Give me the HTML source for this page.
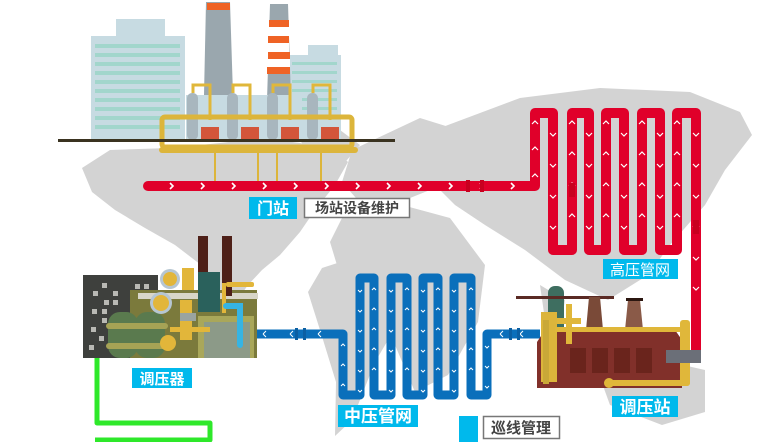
<!DOCTYPE html>
<html><head><meta charset="utf-8"><style>
html,body{margin:0;padding:0;background:#fff;}
svg{display:block;}
text{font-family:"Liberation Sans","Noto Sans CJK SC",sans-serif;}
</style></head><body>
<svg width="762" height="442" viewBox="0 0 762 442" xmlns="http://www.w3.org/2000/svg">
<!-- map -->
<g fill="#d3d3d3">
<polygon points="82,168 110,150 170,148 220,143 262,138 300,143 335,150 348,162 335,185 315,210 300,232 280,255 262,270 248,285 236,302 222,292 205,268 175,245 145,228 115,210 92,192"/>
<polygon points="300,140 340,130 360,145 340,168 312,160"/>
<polygon points="322,268 362,255 405,282 400,320 375,362 352,420 335,436 336,382 320,330 308,292"/>
<polygon points="352,150 420,118 465,132 450,182 405,200 362,205 342,182"/>
<polygon points="342,218 402,205 450,218 485,265 478,322 448,375 415,392 392,338 370,302 340,275 330,242"/>
<polygon points="440,128 520,98 600,88 690,92 740,112 752,135 725,170 705,205 670,245 648,275 608,300 565,280 525,250 485,225 455,205 422,172"/>
<polygon points="598,372 652,358 705,370 705,412 662,425 610,405"/>
<polygon points="540,285 565,300 560,330 545,320"/>
</g>
<!-- top buildings -->
<rect x="116" y="19" width="49" height="20" fill="#c7dbe2"/>
<rect x="91" y="36" width="94" height="103" fill="#c7dbe2"/>
<g fill="#a2d6cc"><rect x="95" y="44" width="85" height="4"/><rect x="95" y="53" width="85" height="4"/><rect x="95" y="62" width="85" height="4"/><rect x="95" y="71" width="85" height="4"/><rect x="95" y="80" width="85" height="4"/><rect x="95" y="89" width="85" height="4"/><rect x="95" y="98" width="85" height="4"/><rect x="95" y="107" width="85" height="4"/><rect x="95" y="116" width="85" height="4"/><rect x="95" y="125" width="85" height="4"/></g>
<rect x="308" y="45" width="30" height="12" fill="#c7dbe2"/>
<rect x="288" y="55" width="53" height="84" fill="#c7dbe2"/>
<g fill="#a2d6cc"><rect x="292" y="62" width="45" height="3"/><rect x="292" y="71" width="45" height="3"/><rect x="292" y="80" width="45" height="3"/><rect x="292" y="89" width="45" height="3"/><rect x="292" y="98" width="45" height="3"/><rect x="292" y="107" width="45" height="3"/><rect x="292" y="116" width="45" height="3"/></g>
<polygon points="206,2 230,2 233,95 204,95" fill="#9aa7ae"/>
<rect x="207" y="3" width="23" height="7" fill="#ef6325"/>
<polygon points="270,4 288,4 291,100 267,100" fill="#9aa7ae"/>
<g fill="#ef6325"><rect x="269" y="20" width="20" height="7"/><rect x="268" y="36" width="21" height="7"/><rect x="268" y="52" width="22" height="7"/><rect x="267" y="67" width="23" height="7"/></g>
<g fill="#fff"><rect x="269" y="27" width="20" height="9"/><rect x="268" y="43" width="21" height="9"/><rect x="268" y="59" width="22" height="8"/></g>
<rect x="186" y="95" width="116" height="45" fill="#c7dbe2"/>
<g fill="#a8b6be"><rect x="187" y="93" width="11" height="47" rx="5"/><rect x="227" y="93" width="11" height="47" rx="5"/><rect x="267" y="93" width="11" height="47" rx="5"/><rect x="307" y="93" width="11" height="47" rx="5"/></g>
<g fill="none" stroke="#e0b73a" stroke-width="3"><path d="M193,93 V85 H210 V120"/><path d="M233,93 V85 H250 V120"/><path d="M273,93 V85 H290 V120"/><path d="M313,93 V85 H330 V120"/></g>
<rect x="162" y="117" width="190" height="30" fill="none" stroke="#dcb53b" stroke-width="5" rx="3"/>
<g fill="#d3553a"><rect x="201" y="127" width="18" height="12"/><rect x="241" y="127" width="18" height="12"/><rect x="281" y="127" width="18" height="12"/><rect x="321" y="127" width="18" height="12"/></g>
<rect x="58" y="139" width="337" height="3" fill="#3a3320"/>
<rect x="159" y="147" width="199" height="6" rx="3" fill="#dcb53b"/>
<g stroke="#dcb53b" stroke-width="2"><line x1="215" y1="153" x2="215" y2="183"/><line x1="258" y1="153" x2="258" y2="183"/><line x1="277" y1="153" x2="277" y2="183"/><line x1="321" y1="153" x2="321" y2="183"/></g>
<!-- red pipe -->
<path d="M148,186 H535 V113 H553 V250 H572 V113 H589 V250 H606 V113 H624 V250 H642 V113 H660 V250 H677 V113 H696 V352" fill="none" stroke="#e0002a" stroke-width="10" stroke-linejoin="round" stroke-linecap="round"/>
<g fill="none" stroke="#fff" stroke-width="1.6">
<path d="M170,183 l3,3 l-3,3 M201,183 l3,3 l-3,3 M232,183 l3,3 l-3,3 M263,183 l3,3 l-3,3 M294,183 l3,3 l-3,3 M325,183 l3,3 l-3,3 M356,183 l3,3 l-3,3 M387,183 l3,3 l-3,3 M418,183 l3,3 l-3,3 M449,183 l3,3 l-3,3 M480,183 l3,3 l-3,3 M511,183 l3,3 l-3,3"/>
</g>
<g fill="none" stroke="#fff" stroke-width="1.2">
<path d="M532,124 l3,-3 l3,3 M532,150 l3,-3 l3,3 M532,177 l3,-3 l3,3"/>
<path d="M550,133 l3,3 l3,-3 M550,164 l3,3 l3,-3 M550,195 l3,3 l3,-3 M550,226 l3,3 l3,-3"/>
<path d="M569,124 l3,-3 l3,3 M569,155 l3,-3 l3,3 M569,186 l3,-3 l3,3 M569,217 l3,-3 l3,3"/>
<path d="M586,133 l3,3 l3,-3 M586,164 l3,3 l3,-3 M586,195 l3,3 l3,-3 M586,226 l3,3 l3,-3"/>
<path d="M603,124 l3,-3 l3,3 M603,155 l3,-3 l3,3 M603,186 l3,-3 l3,3 M603,217 l3,-3 l3,3"/>
<path d="M621,133 l3,3 l3,-3 M621,164 l3,3 l3,-3 M621,195 l3,3 l3,-3 M621,226 l3,3 l3,-3"/>
<path d="M639,124 l3,-3 l3,3 M639,155 l3,-3 l3,3 M639,186 l3,-3 l3,3 M639,217 l3,-3 l3,3"/>
<path d="M657,133 l3,3 l3,-3 M657,164 l3,3 l3,-3 M657,195 l3,3 l3,-3 M657,226 l3,3 l3,-3"/>
<path d="M674,124 l3,-3 l3,3 M674,155 l3,-3 l3,3 M674,186 l3,-3 l3,3 M674,217 l3,-3 l3,3"/>
<path d="M693,133 l3,3 l3,-3 M693,164 l3,3 l3,-3 M693,195 l3,3 l3,-3 M693,226 l3,3 l3,-3 M693,257 l3,3 l3,-3 M693,287 l3,3 l3,-3"/>
</g>
<g fill="#c8001f"><rect x="466" y="180" width="4" height="12"/><rect x="480" y="180" width="4" height="12"/><rect x="693" y="220" width="6" height="14"/><rect x="569" y="183" width="6" height="14"/></g>
<!-- blue pipe -->
<path d="M257,334 H343 V395 H360 V278 H374 V395 H391 V278 H407 V395 H423 V278 H438 V395 H454 V278 H471 V395 H487 V334 H540" fill="none" stroke="#0a6fbb" stroke-width="9" stroke-linejoin="round"/>
<g fill="none" stroke="#fff" stroke-width="1">
<path d="M263,334 l3,-3 M263,334 l3,3 M290,334 l3,-3 M290,334 l3,3 M318,334 l3,-3 M318,334 l3,3 M500,334 l3,-3 M500,334 l3,3 M520,334 l3,-3 M520,334 l3,3"/>
<path d="M341,346 l2,-2 l2,2 M341,366 l2,-2 l2,2 M341,386 l2,-2 l2,2"/>
<path d="M358,290 l2,2 l2,-2 M358,310 l2,2 l2,-2 M358,330 l2,2 l2,-2 M358,350 l2,2 l2,-2 M358,370 l2,2 l2,-2 M358,390 l2,2 l2,-2"/>
<path d="M372,290 l2,-2 l2,2 M372,310 l2,-2 l2,2 M372,330 l2,-2 l2,2 M372,350 l2,-2 l2,2 M372,370 l2,-2 l2,2"/>
<path d="M389,290 l2,2 l2,-2 M389,310 l2,2 l2,-2 M389,330 l2,2 l2,-2 M389,350 l2,2 l2,-2 M389,370 l2,2 l2,-2 M389,390 l2,2 l2,-2"/>
<path d="M405,290 l2,-2 l2,2 M405,310 l2,-2 l2,2 M405,330 l2,-2 l2,2 M405,350 l2,-2 l2,2 M405,370 l2,-2 l2,2"/>
<path d="M421,290 l2,2 l2,-2 M421,310 l2,2 l2,-2 M421,330 l2,2 l2,-2 M421,350 l2,2 l2,-2 M421,370 l2,2 l2,-2 M421,390 l2,2 l2,-2"/>
<path d="M436,290 l2,-2 l2,2 M436,310 l2,-2 l2,2 M436,330 l2,-2 l2,2 M436,350 l2,-2 l2,2 M436,370 l2,-2 l2,2"/>
<path d="M452,290 l2,2 l2,-2 M452,310 l2,2 l2,-2 M452,330 l2,2 l2,-2 M452,350 l2,2 l2,-2 M452,370 l2,2 l2,-2 M452,390 l2,2 l2,-2"/>
<path d="M469,290 l2,-2 l2,2 M469,310 l2,-2 l2,2 M469,330 l2,-2 l2,2 M469,350 l2,-2 l2,2 M469,370 l2,-2 l2,2"/>
<path d="M485,346 l2,2 l2,-2 M485,366 l2,2 l2,-2 M485,386 l2,2 l2,-2"/>
</g>
<g fill="#0a5fa3"><rect x="295" y="328" width="3" height="12"/><rect x="303" y="328" width="3" height="12"/><rect x="509" y="328" width="3" height="12"/><rect x="517" y="328" width="3" height="12"/></g>
<!-- green pipe -->
<path d="M97,358 V423 H210 V440 H95" fill="none" stroke="#2ee82a" stroke-width="5" stroke-linejoin="round"/>
<!-- left regulator -->
<rect x="83" y="275" width="75" height="83" fill="#3e403d"/>
<g fill="#b9b9b4"><rect x="102" y="283" width="5" height="5"/><rect x="93" y="291" width="5" height="5"/><rect x="113" y="291" width="5" height="5"/><rect x="104" y="300" width="5" height="5"/><rect x="113" y="300" width="5" height="5"/><rect x="92" y="309" width="5" height="5"/><rect x="102" y="309" width="5" height="5"/><rect x="102" y="318" width="5" height="5"/><rect x="91" y="327" width="5" height="5"/><rect x="99" y="336" width="5" height="5"/><rect x="89" y="345" width="5" height="5"/><rect x="135" y="284" width="5" height="5"/><rect x="144" y="284" width="5" height="5"/></g>
<rect x="130" y="290" width="127" height="68" fill="#7b7a3c"/>
<rect x="138" y="293" width="120" height="6" fill="#d8d6c8"/>
<rect x="198" y="236" width="10" height="60" fill="#4e2018"/>
<rect x="222" y="236" width="10" height="60" fill="#4e2018"/>
<rect x="108" y="312" width="30" height="46" rx="12" fill="#5a7a4e"/>
<rect x="135" y="312" width="30" height="46" rx="12" fill="#5a7a4e"/>
<rect x="106" y="323" width="62" height="6" rx="3" fill="#a6a355"/>
<rect x="106" y="343" width="62" height="6" rx="3" fill="#a6a355"/>
<rect x="198" y="316" width="56" height="42" fill="#a9a75a"/>
<rect x="204" y="322" width="46" height="36" fill="#8c9a88"/>
<circle cx="170" cy="279" r="10" fill="#b6c6d2"/><circle cx="170" cy="279" r="7" fill="#e2b63a"/>
<circle cx="161" cy="303" r="11" fill="#b6c6d2"/><circle cx="161" cy="303" r="8" fill="#e2b63a"/>
<rect x="182" y="268" width="12" height="22" fill="#e2b63a"/>
<rect x="198" y="272" width="22" height="40" fill="#2a615c"/>
<rect x="226" y="282" width="28" height="5" rx="2" fill="#e2b63a"/>
<rect x="222" y="283" width="4" height="30" fill="#e2b63a"/>
<path d="M226,306 H240 V345" fill="none" stroke="#36b4e4" stroke-width="6" stroke-linecap="round"/>
<rect x="180" y="300" width="12" height="40" fill="#e2b63a"/>
<rect x="170" y="327" width="40" height="5" fill="#e2b63a"/>
<rect x="180" y="313" width="16" height="8" fill="#9aa4a0"/>
<circle cx="168" cy="343" r="8" fill="#e2b63a"/>
<!-- right station -->
<rect x="548" y="286" width="16" height="50" rx="7" fill="#3e6e60"/>
<rect x="516" y="296" width="98" height="3" fill="#5a2a24"/>
<polygon points="589,297 600,297 603,330 586,330" fill="#7a4a38"/>
<polygon points="628,300 640,300 643,330 625,330" fill="#8a5a48"/>
<rect x="626" y="298" width="17" height="3" fill="#2b1610"/>
<polygon points="545,330 675,330 682,340 682,388 537,388 537,342" fill="#81302a"/>
<g fill="#6a241c"><rect x="570" y="348" width="16" height="25"/><rect x="592" y="348" width="16" height="25"/><rect x="614" y="348" width="16" height="25"/><rect x="636" y="348" width="16" height="25"/></g>
<rect x="541" y="312" width="16" height="70" fill="#dcb53b"/>
<rect x="543" y="320" width="6" height="64" fill="#c9a838"/>
<rect x="566" y="304" width="6" height="40" fill="#e0b73a"/>
<rect x="557" y="318" width="24" height="6" fill="#e0b73a"/>
<rect x="555" y="327" width="135" height="5" fill="#e0b73a"/>
<rect x="680" y="320" width="10" height="66" rx="3" fill="#e0b73a"/>
<rect x="605" y="380" width="85" height="6" rx="3" fill="#e0b73a"/>
<circle cx="609" cy="383" r="5" fill="#e0b73a"/>
<rect x="666" y="350" width="35" height="13" fill="#6b6f78"/>
<!-- labels -->
<rect x="249" y="197" width="48" height="22" fill="#00b9ec"/>
<text x="273" y="214" fill="#fff" font-size="16" text-anchor="middle" font-weight="bold">门站</text>
<rect x="304.5" y="198.5" width="105" height="19" fill="#fff" stroke="#777" stroke-width="1.5"/>
<text x="357" y="213" fill="#444" font-size="14" text-anchor="middle" font-weight="bold">场站设备维护</text>
<rect x="603" y="259" width="75" height="20" fill="#00b9ec"/>
<text x="640" y="275" fill="#fff" font-size="15" text-anchor="middle">高压管网</text>
<rect x="132" y="368" width="60" height="20" fill="#00b9ec"/>
<text x="162" y="384" fill="#fff" font-size="15" text-anchor="middle" font-weight="bold">调压器</text>
<rect x="338" y="405" width="80" height="22" fill="#00b9ec"/>
<text x="378" y="422" fill="#fff" font-size="17" text-anchor="middle" font-weight="bold">中压管网</text>
<rect x="459" y="416" width="19" height="26" fill="#00b9ec"/>
<rect x="483.5" y="416.5" width="76" height="22" fill="#fff" stroke="#777" stroke-width="1.5"/>
<text x="521" y="433" fill="#444" font-size="15" text-anchor="middle" font-weight="bold">巡线管理</text>
<rect x="612" y="396" width="66" height="21" fill="#00b9ec"/>
<text x="645" y="413" fill="#fff" font-size="17" text-anchor="middle" font-weight="bold">调压站</text>
</svg>
</body></html>
